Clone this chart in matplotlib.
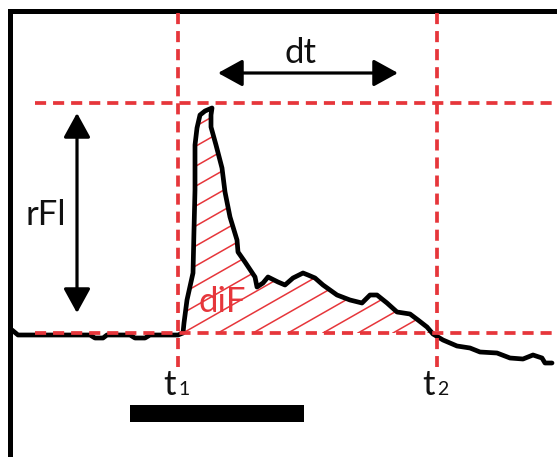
import matplotlib
matplotlib.use("Agg")
import matplotlib.pyplot as plt
import numpy as np
from matplotlib.patches import Polygon
from matplotlib.lines import Line2D

plt.rcParams['lines.scale_dashes'] = False
plt.rcParams['font.family'] = ['Lato', 'DejaVu Sans']

# ---- data (time in arbitrary units, fluorescence above baseline) ----
time = [12, 18, 90, 95, 103, 107, 130, 135, 145, 150, 178, 183, 184, 187, 193,
        194, 195, 195, 197, 200, 205, 212, 211, 211, 216, 222, 225, 230, 237,
        238, 245, 255, 257, 263, 268, 278, 285, 293, 303, 308, 315, 323, 337,
        350, 362, 370, 377, 387, 397, 410, 418, 427, 433, 443, 457, 470, 480,
        497, 510, 523, 533, 542, 545, 552]
fluor = [3, -2, -2, -5, -5, -2, -2, -5, -5, -2, -2, 0, 10, 33, 60,
         103, 143, 188, 205, 218, 222, 225, 218, 206, 188, 165, 141, 116, 93,
         81, 71, 56, 46, 50, 56, 51, 48, 55, 60, 58, 55, 48, 38,
         33, 30, 38, 38, 30, 21, 19, 13, 6, -1, -7, -13, -15, -19,
         -20, -25, -26, -22, -25, -30, -30]
assert len(time) == len(fluor)

t1 = 178          # response onset
t2 = 437          # response end
F_base = 0        # baseline fluorescence
F_peak = 230      # peak fluorescence
stim_on = [130]
stim_off = [304]

RED = '#e6363b'
W, H = 557, 457
fig = plt.figure(figsize=(W / 100, H / 100), dpi=100)
fig.patch.set_facecolor('white')
ax = fig.add_axes([9.5 / W, 0, (W - 9.5) / W, (H - 10.5) / H])
ax.set_xlim(9.5, W)
ax.set_ylim(333 - H, 333 - 10.5)
for s in ['right', 'bottom']:
    ax.spines[s].set_visible(False)
for s in ['left', 'top']:
    ax.spines[s].set_linewidth(3.6)
    ax.spines[s].set_color('black')
ax.set_xticks([])
ax.set_yticks([])

tx = np.array(time, float)
fy = np.array(fluor, float)

# ---- hatched integrated area (diF) ----
i0 = time.index(183)
i1 = 51  # last point above baseline
xc = tx[i1] + (tx[i1 + 1] - tx[i1]) * (fy[i1] - F_base) / (fy[i1] - fy[i1 + 1])
poly_x = list(tx[i0:i1 + 1]) + [xc]
poly_y = list(fy[i0:i1 + 1]) + [F_base]
poly = Polygon(np.column_stack([poly_x, poly_y]), closed=True,
               facecolor='none', edgecolor='none')
ax.add_patch(poly)
slope = 0.57
for k in range(-12, 10):
    x0 = 183 + 35 * k
    ln = Line2D([x0, x0 + 500], [F_base, F_base + slope * 500],
                color=RED, lw=1.1)
    ax.add_line(ln)
    ln.set_clip_path(poly)

# ---- trace ----
ax.plot(tx, fy, color='black', lw=3.4, solid_joinstyle='round',
        solid_capstyle='round', zorder=3)

# ---- dashed guide lines ----
dash = dict(color=RED, lw=2.7, linestyle=(0, (8, 5)), zorder=4)
ax.plot([35, W], [F_peak, F_peak], **dash)
ax.plot([35, W], [F_base, F_base], **dash)
ax.plot([t1, t1], [333 - 13, 333 - 367], **dash)
ax.plot([t2, t2], [333 - 13, 333 - 367], **dash)

# ---- arrows ----
arr = dict(arrowstyle='<|-|>,head_length=1.0,head_width=0.55', color='black',
           lw=2.3, shrinkA=0, shrinkB=0, mutation_scale=15)
ax.annotate('', xy=(218, 260), xytext=(398, 260), arrowprops=arr)
ax.annotate('', xy=(77, F_peak - 10), xytext=(77, 20), arrowprops=arr)

# ---- stimulus bar ----
ax.broken_barh([(a, b - a) for a, b in zip(stim_on, stim_off)], (-89, 17),
               facecolors='black')

# ---- labels ----
fs = 25
ax.text(300, 270, 'dt', fontsize=fs, ha='center', va='baseline', color='#111111')
ax.text(46, 108, 'rFl', fontsize=fs, ha='center', va='baseline', color='#111111')
ax.text(222, 21, 'diF', fontsize=fs, ha='center', va='baseline', color=RED)
for t, sub in [(t1, '1'), (t2, '2')]:
    ax.text(t - 15, -62, 't', fontsize=fs, ha='left', va='baseline', color='#111111')
    ax.text(t + 0, -62, sub, fontsize=14, ha='left', va='baseline', color='#111111')

fig.savefig('out.png', dpi=100, facecolor='white')
